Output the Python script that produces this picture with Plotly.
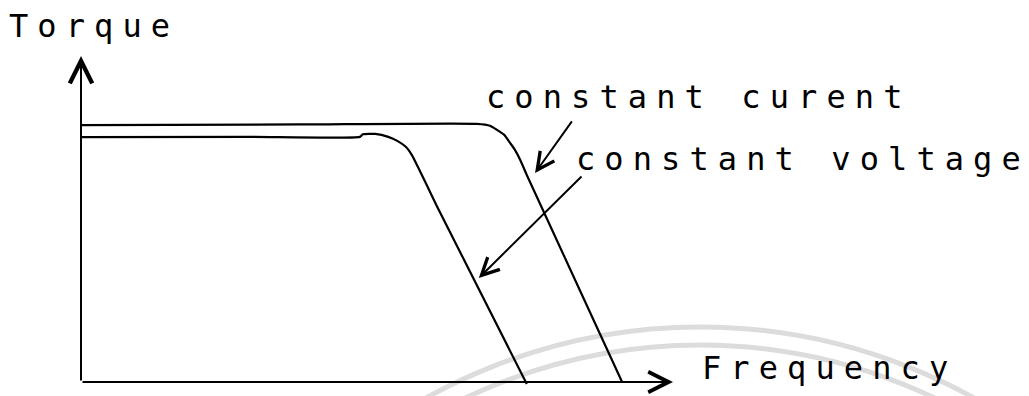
import plotly.graph_objects as go

# ---- data (frequency / torque, arbitrary units; axis arrows end at 10) ----
cc_freq = [0, 3.70, 6.69, 6.91, 7.03, 7.15, 7.25, 7.33, 7.42, 7.53, 9.14]
cc_torque = [7.88, 7.90, 7.92, 7.86, 7.73, 7.58, 7.33, 7.12, 6.81, 6.35, 0.0]

cv_freq = [0, 2.85, 4.71, 4.76, 4.97, 5.19, 5.35, 5.49, 5.59, 5.69, 5.84, 6.01, 7.53]
cv_torque = [7.51, 7.52, 7.52, 7.60, 7.61, 7.52, 7.39, 7.21, 6.96, 6.60, 6.04, 5.40, -0.06]

axis_labels = ["Torque", "Frequency"]
series_labels = ["constant curent", "constant voltage"]

FREQ_MAX = 10
TORQUE_MAX = 10

# ---- layout geometry (screen pixels; page body has an 8px margin) ----
SCREEN_W, SCREEN_H = 1029, 396
OFF = 8
FIG_W, FIG_H = SCREEN_W - OFF, SCREEN_H - OFF
ox, oy = 81, 382          # origin on screen
x_end_px, y_end_px = 673, 56
sx = (x_end_px - ox) / FREQ_MAX
sy = (oy - y_end_px) / TORQUE_MAX


def dx(px):
    return (px - ox) / sx


def dy(py):
    return (oy - py) / sy


def paper_x(px):
    return (px - OFF) / FIG_W


def paper_y(py):
    return 1 - (py - OFF) / FIG_H


FONT = dict(family="DejaVu Sans Mono", size=32, color="black")
SPACING = "letter-spacing:9.1px"

fig = go.Figure()
for fx, ty in ((cc_freq, cc_torque), (cv_freq, cv_torque)):
    fig.add_trace(go.Scatter(x=fx, y=ty, mode="lines",
                             line=dict(color="black", width=2.2, shape="spline", smoothing=0.5),
                             hoverinfo="skip", showlegend=False))

annotations = []
# axis arrows
annotations.append(dict(x=0, y=TORQUE_MAX, ax=0, ay=0, xref="x", yref="y", axref="x", ayref="y",
                        text="", showarrow=True, arrowhead=5, arrowsize=2.2, arrowwidth=2,
                        arrowcolor="black"))
annotations.append(dict(x=FREQ_MAX, y=0, ax=0, ay=0, xref="x", yref="y", axref="x", ayref="y",
                        text="", showarrow=True, arrowhead=5, arrowsize=2.0, arrowwidth=2,
                        arrowcolor="black"))

# pointer arrows from labels to curves
ptr_cc = dict(tail=(8.31, 8.04), head=(7.67, 6.41))
ptr_cv = dict(tail=(8.48, 6.35), head=(6.72, 3.19))
for p in (ptr_cc, ptr_cv):
    annotations.append(dict(x=p["head"][0], y=p["head"][1], ax=p["tail"][0], ay=p["tail"][1],
                            xref="x", yref="y", axref="x", ayref="y", text="", showarrow=True,
                            arrowhead=5, arrowsize=1.7, arrowwidth=2, arrowcolor="black"))

# text labels (left edge, baseline in screen px)
label_pos = [
    (axis_labels[0], 10, 38),
    (series_labels[0], 487, 109),
    (series_labels[1], 577, 171),
    (axis_labels[1], 703, 380),
]
for txt, lx, base in label_pos:
    spaced = f'<span style="{SPACING}">{txt[:-1]}</span>{txt[-1]}'
    annotations.append(dict(x=paper_x(lx - 3), y=paper_y(base - 12), xref="paper", yref="paper",
                            text=spaced, showarrow=False,
                            xanchor="left", yanchor="middle", font=FONT))

# faint watermark arcs (scan background)
shapes = []
wm_cx, wm_cy = 700, 891
for r in (564, 546):
    shapes.append(dict(type="circle", xref="x", yref="y",
                       x0=dx(wm_cx - r), x1=dx(wm_cx + r), y0=dy(wm_cy + r), y1=dy(wm_cy - r),
                       line=dict(color="#dcdcdc", width=5), layer="below"))

fig.update_layout(
    width=FIG_W, height=FIG_H,
    margin=dict(l=0, r=0, t=0, b=0),
    paper_bgcolor="white", plot_bgcolor="white",
    xaxis=dict(range=[dx(OFF), dx(SCREEN_W)], visible=False, fixedrange=True),
    yaxis=dict(range=[dy(SCREEN_H), dy(OFF)], visible=False, fixedrange=True),
    annotations=annotations,
    shapes=shapes,
    showlegend=False,
)

fig.write_html("out.html")
